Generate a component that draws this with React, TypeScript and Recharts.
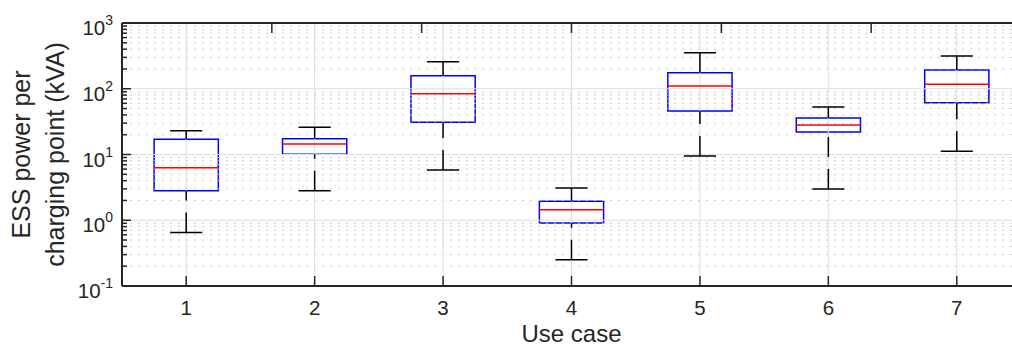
import React from "react";
import { ComposedChart, XAxis, YAxis, Scatter, ReferenceLine, ReferenceArea } from "recharts";

// box statistics per use case (kVA)
const CASES = [1, 2, 3, 4, 5, 6, 7];
const WHISKER_LOW = [0.65, 2.8, 5.8, 0.25, 9.5, 3.0, 11.2];
const Q1 = [2.8, 10.1, 31, 0.91, 46, 22, 61];
const MEDIAN = [6.3, 14.4, 84, 1.45, 110, 28, 117];
const Q3 = [17, 17.4, 158, 1.94, 175, 36, 193];
const WHISKER_HIGH = [23, 26, 258, 3.1, 354, 53, 315];

const MAJOR_TICKS = [0.1, 1, 10, 100, 1000];
const MINOR_TICKS = [
  0.2, 0.3, 0.4, 0.5, 0.6, 0.7, 0.8, 0.9,
  2, 3, 4, 5, 6, 7, 8, 9,
  20, 30, 40, 50, 60, 70, 80, 90,
  200, 300, 400, 500, 600, 700, 800, 900,
];

const AXIS = "#262626";
const FONT = "'Liberation Sans', Arial, Helvetica, sans-serif";
const BOX_HALF = 0.25;
const CAP_HALF = 0.125;

const data = CASES.map((c, i) => ({ x: c, y: MEDIAN[i] }));

const YTick = (props: any) => {
  const { x, y, payload } = props;
  const v = payload.value;
  const major = MAJOR_TICKS.includes(v);
  const exp = Math.round(Math.log10(v));
  return (
    <g>
      <line x1={x} x2={x + (major ? 9 : 5)} y1={y} y2={y} stroke={AXIS} strokeWidth={1.5} />
      {major && (
        <text x={x - 9} y={y + 12} textAnchor="end" fontSize={20.5} fill={AXIS} fontFamily={FONT}>
          10
          <tspan dy={-10} fontSize={14}>
            {exp}
          </tspan>
        </text>
      )}
    </g>
  );
};

const XTickBottom = (props: any) => {
  const { x, y, payload } = props;
  return (
    <g>
      <line x1={x} x2={x} y1={y} y2={y - 10} stroke={AXIS} strokeWidth={1.5} />
      <text x={x} y={y + 29} textAnchor="middle" fontSize={20.5} fill={AXIS} fontFamily={FONT}>
        {payload.value}
      </text>
    </g>
  );
};

const XTickTop = (props: any) => {
  const { x, y } = props;
  return <line x1={x} x2={x} y1={y} y2={y + 10} stroke={AXIS} strokeWidth={1.5} />;
};

const XLabel = (props: any) => {
  const { x, y, width } = props.viewBox;
  return (
    <text x={x + width / 2} y={y + 56} textAnchor="middle" fontSize={24} fill={AXIS} fontFamily={FONT}>
      Use case
    </text>
  );
};

const YLabel = (props: any) => {
  const { x, y, height } = props.viewBox;
  const cy = y + height / 2;
  const lx1 = x + 8;
  const lx2 = x + 42;
  return (
    <g fontSize={25} fill={AXIS} fontFamily={FONT}>
      <text x={lx1} y={cy} textAnchor="middle" transform={`rotate(-90 ${lx1} ${cy})`}>
        ESS power per
      </text>
      <text x={lx2} y={cy} textAnchor="middle" transform={`rotate(-90 ${lx2} ${cy})`}>
        charging point (kVA)
      </text>
    </g>
  );
};

export default function App() {
  return (
    <div style={{ position: "absolute", left: 0, top: 0, width: 1012, height: 347, overflow: "hidden", background: "#fff" }}>
      <ComposedChart width={1030} height={347} data={data} margin={{ top: 22, right: 9, bottom: 21, left: 22 }}>
        <XAxis
          xAxisId={0}
          type="number"
          dataKey="x"
          domain={[0.5, 7.5]}
          ticks={CASES}
          interval={0}
          allowDataOverflow
          height={40}
          tickSize={0}
          tickMargin={0}
          tickLine={false}
          axisLine={{ stroke: AXIS, strokeWidth: 2 }}
          tick={<XTickBottom />}
          label={(p: any) => <XLabel {...p} />}
        />
        <XAxis
          xAxisId="top"
          orientation="top"
          type="number"
          domain={[0.5, 7.5]}
          ticks={CASES}
          interval={0}
          allowDataOverflow
          height={1}
          tickSize={0}
          tickMargin={0}
          tickLine={false}
          axisLine={{ stroke: AXIS, strokeWidth: 2 }}
          tick={<XTickTop />}
        />
        <YAxis
          type="number"
          scale="log"
          domain={[0.1, 1000]}
          ticks={[...MAJOR_TICKS, ...MINOR_TICKS]}
          interval={0}
          allowDataOverflow
          width={100}
          tickSize={0}
          tickMargin={0}
          tickLine={false}
          axisLine={{ stroke: AXIS, strokeWidth: 2 }}
          tick={<YTick />}
          label={(p: any) => <YLabel {...p} />}
        />

        {/* grid */}
        {MINOR_TICKS.map((v) => (
          <ReferenceLine key={`mn-${v}`} y={v} stroke="#cccccc" strokeDasharray="2 6" strokeWidth={1} />
        ))}
        {MAJOR_TICKS.slice(1, -1).map((v) => (
          <ReferenceLine key={`mj-${v}`} y={v} stroke="#dedede" strokeWidth={1} />
        ))}
        {CASES.map((c) => (
          <ReferenceLine key={`vg-${c}`} x={c} stroke="#dedede" strokeWidth={1} />
        ))}

        {/* boxes */}
        {CASES.map((c, i) => (
          <ReferenceArea
            key={`box-${c}`}
            x1={c - BOX_HALF}
            x2={c + BOX_HALF}
            y1={Q1[i]}
            y2={Q3[i]}
            fill="none"
            fillOpacity={0}
            stroke="#0000ff"
            strokeWidth={1.5}
          />
        ))}
        {CASES.map((c, i) => (
          <ReferenceLine
            key={`med-${c}`}
            segment={[{ x: c - BOX_HALF, y: MEDIAN[i] }, { x: c + BOX_HALF, y: MEDIAN[i] }]}
            stroke="#ff0000"
            strokeWidth={1.5}
          />
        ))}
        {CASES.map((c, i) => (
          <ReferenceLine
            key={`wl-${c}`}
            segment={[{ x: c, y: WHISKER_LOW[i] }, { x: c, y: Q1[i] }]}
            stroke="#000"
            strokeWidth={1.5}
            strokeDasharray="20 12"
          />
        ))}
        {CASES.map((c, i) => (
          <ReferenceLine
            key={`wh-${c}`}
            segment={[{ x: c, y: WHISKER_HIGH[i] }, { x: c, y: Q3[i] }]}
            stroke="#000"
            strokeWidth={1.5}
            strokeDasharray="20 12"
          />
        ))}
        {CASES.map((c, i) => (
          <ReferenceLine
            key={`cl-${c}`}
            segment={[{ x: c - CAP_HALF, y: WHISKER_LOW[i] }, { x: c + CAP_HALF, y: WHISKER_LOW[i] }]}
            stroke="#000"
            strokeWidth={1.5}
          />
        ))}
        {CASES.map((c, i) => (
          <ReferenceLine
            key={`ch-${c}`}
            segment={[{ x: c - CAP_HALF, y: WHISKER_HIGH[i] }, { x: c + CAP_HALF, y: WHISKER_HIGH[i] }]}
            stroke="#000"
            strokeWidth={1.5}
          />
        ))}

        <Scatter dataKey="y" isAnimationActive={false} shape={() => <g />} />
      </ComposedChart>
    </div>
  );
}
